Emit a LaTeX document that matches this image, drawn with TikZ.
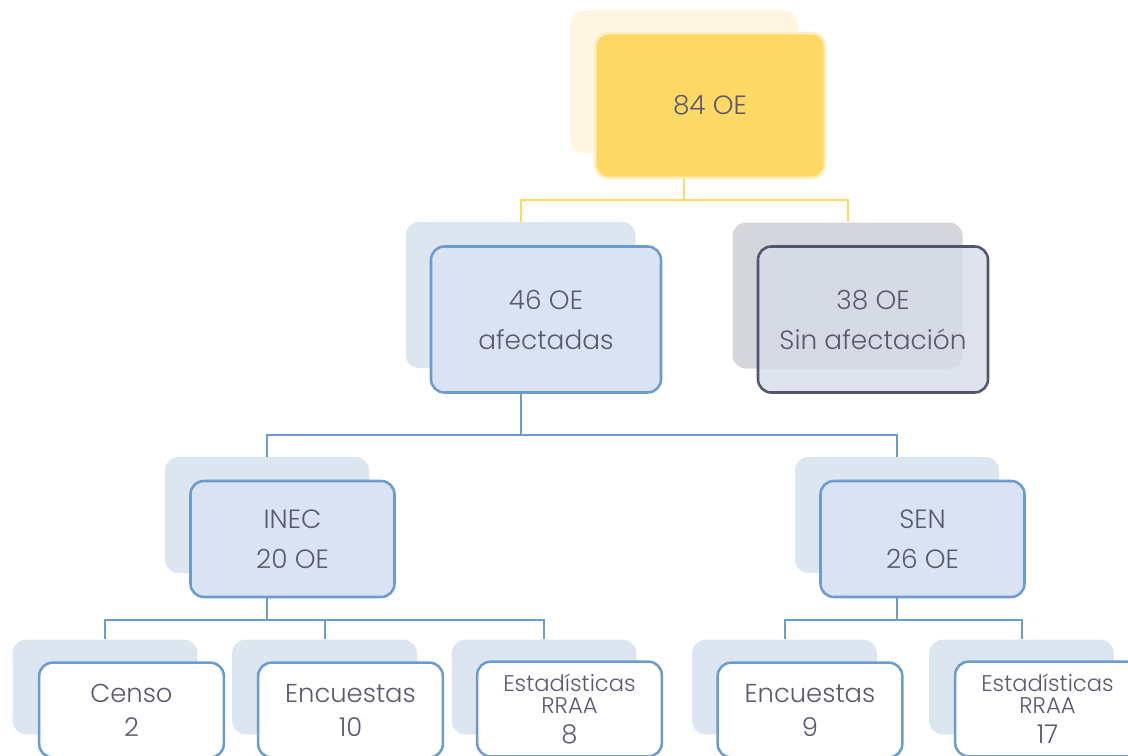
\documentclass[tikz,border=0pt]{standalone}
\usepackage{fontspec}
\setmainfont{Poppins}[UprightFont={* Light}]
\usetikzlibrary{calc}

\definecolor{txtgray}{RGB}{89,89,112}
\definecolor{gold}{RGB}{255,217,102}
\definecolor{goldrim}{RGB}{255,240,195}
\definecolor{goldshade}{RGB}{255,246,226}
\definecolor{bluefill}{RGB}{218,227,243}
\definecolor{bluerim}{RGB}{108,155,207}
\definecolor{blueshade}{RGB}{220,230,241}
\definecolor{grayfill}{RGB}{214,220,232}
\definecolor{grayrim}{RGB}{84,84,112}
\definecolor{grayshade}{RGB}{213,214,219}

\begin{document}
\begin{tikzpicture}[x=0.75pt, y=-0.75pt,
    box/.style={rectangle, rounded corners=10pt, line width=1.9pt, align=center,
      text=txtgray, font=\fontsize{19.8}{30}\selectfont, inner sep=0pt},
    shade/.style={rectangle, rounded corners=10pt, draw=none, inner sep=0pt},
    lvltwo/.style={minimum width=172.5pt, minimum height=109.5pt},
    lvlthree/.style={minimum width=153pt, minimum height=87pt},
    lvlfour/.style={minimum width=138.5pt, minimum height=71pt},
    leaf/.style={font=\fontsize{19.4}{25.5}\selectfont},
    small/.style={font=\fontsize{17}{16.5}\selectfont},
    goldline/.style={draw=gold, line width=1.5pt},
    blueline/.style={draw=bluerim, line width=1.5pt}]
  \clip (0,0) rectangle (1128,756);
  \useasboundingbox (0,0) rectangle (1128,756);
  % shadow boxes
  \node[shade, fill=goldshade, minimum width=171pt, minimum height=107pt] (topS) at (684,81.5) {};
  \node[shade, fill=blueshade, lvltwo] (affS) at (520.5,295) {};
  \node[shade, fill=grayshade, lvltwo] (sinS) at (847.5,295.5) {};
  \node[shade, fill=blueshade, lvlthree] (inecS) at (267,515) {};
  \node[shade, fill=blueshade, lvlthree] (senS) at (897,515) {};
  \node[shade, fill=blueshade, lvlfour] (censoS) at (105,687) {};
  \node[shade, fill=blueshade, lvlfour] (encaS) at (324.5,687) {};
  \node[shade, fill=blueshade, lvlfour] (estaS) at (544,687) {};
  \node[shade, fill=blueshade, lvlfour] (encbS) at (784.5,687) {};
  \node[shade, fill=blueshade, lvlfour] (estbS) at (1021.5,687) {};
  % connectors
  \draw[goldline] (topS) -- ++(0,118.5) -| (affS.north);
  \draw[goldline] (topS) -- ++(0,118.5) -| (sinS.north);
  \draw[blueline] (affS) -- ++(0,140) -| (inecS.north);
  \draw[blueline] (affS) -- ++(0,140) -| (senS.north);
  \draw[blueline] (inecS) -- ++(0,105) -| (censoS.north);
  \draw[blueline] (inecS) -- ++(0,105) -| (encaS.north);
  \draw[blueline] (inecS) -- ++(0,105) -| (estaS.north);
  \draw[blueline] (senS) -- ++(0,105) -| (encbS.north);
  \draw[blueline] (senS) -- ++(0,105) -| (estbS.north);
  % main boxes
  \node[box, draw=goldrim, fill=gold, minimum width=172.5pt, minimum height=108.75pt] (top) at (710,105.5) {84 OE};
  \node[box, draw=bluerim, fill=bluefill, lvltwo] (aff) at (546,319.5) {46 OE\\afectadas};
  \node[box, draw=grayrim, fill=grayfill, fill opacity=0.8, text opacity=1, lvltwo] (sin) at (873,319.5) {38 OE\\Sin afectación};
  \node[box, draw=bluerim, fill=bluefill, lvlthree] (inec) at (292.5,539) {INEC\\20 OE};
  \node[box, draw=bluerim, fill=bluefill, lvlthree] (sen) at (922.5,539) {SEN\\26 OE};
  \node[box, draw=bluerim, fill=white, lvlfour, leaf] (censo) at (131.5,710) {Censo\\2};
  \node[box, draw=bluerim, fill=white, lvlfour, leaf] (enca) at (350.5,710) {Encuestas\\10};
  \node[box, draw=bluerim, fill=white, lvlfour, small] (esta) at (569.5,709)
    {Estadísticas\\RRAA\\[6pt]{\fontsize{19.4}{18}\selectfont 8}};
  \node[box, draw=bluerim, fill=white, lvlfour, leaf] (encb) at (810,710) {Encuestas\\9};
  \node[box, draw=bluerim, fill=white, lvlfour, small] (estb) at (1047.5,709)
    {Estadísticas\\RRAA\\[6pt]{\fontsize{19.4}{18}\selectfont 17}};
\end{tikzpicture}
\end{document}
